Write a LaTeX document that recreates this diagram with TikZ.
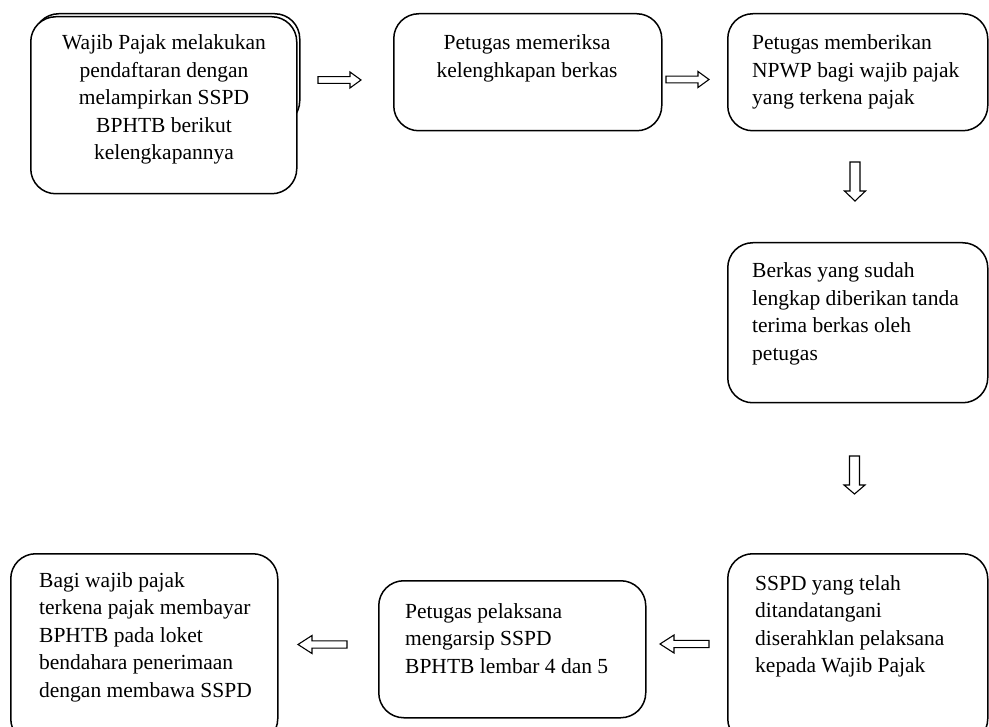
\documentclass[tikz,border=0pt]{standalone}
\usepackage{fontspec}
\setmainfont{Liberation Serif}
\tikzset{
  box/.style={draw, line width=1.5pt, rounded corners=25pt, inner sep=0pt, fill=white, anchor=north west},
  txt/.style={inner sep=0pt, font=\fontsize{21.5}{27.5}\selectfont},
  blk/.style={draw, line width=1.1pt, fill=white, line join=miter},
  pics/barrow/.style n args={4}{code={
    \draw[blk] (0,-#3) -- ({#1-#2},-#3) -- ({#1-#2},-#4) -- (#1,0) -- ({#1-#2},#4) -- ({#1-#2},#3) -- (0,#3) -- cycle;}}
}
\begin{document}
\begin{tikzpicture}[x=1pt,y=-1pt]
\useasboundingbox (0,0) rectangle (989,727);
\clip (0,0) rectangle (989,727);

% box 1 (double outline)
\node[box, minimum width=266pt, minimum height=112pt] (b1back) at (33,13) {};
\node[box, minimum width=266pt, minimum height=177pt] (b1) at (30,16) {};
\node[txt, anchor=base] (t1) at (164,50) {\parbox[t]{300pt}{\centering Wajib Pajak melakukan\\ pendaftaran dengan\\ melampirkan SSPD\\ BPHTB berikut\\ kelengkapannya}};

% box 2
\node[box, minimum width=268pt, minimum height=117pt] (b2) at (393,13) {};
\node[txt, anchor=base] (t2) at (527,50) {\parbox[t]{300pt}{\centering Petugas memeriksa\\ kelenghkapan berkas}};

% box 3
\node[box, minimum width=260pt, minimum height=117pt] (b3) at (727,13) {};
\node[txt, anchor=base west] (t3) at (752,50) {\parbox[t]{260pt}{\raggedright Petugas memberikan\\ NPWP bagi wajib pajak\\ yang terkena pajak}};

% box 4
\node[box, minimum width=260pt, minimum height=160pt] (b4) at (727,242) {};
\node[txt, anchor=base west] (t4) at (752,278) {\parbox[t]{260pt}{\raggedright Berkas yang sudah\\ lengkap diberikan tanda\\ terima berkas oleh\\ petugas}};

% box 6 (bottom right)
\node[box, minimum width=260pt, minimum height=190pt] (b6) at (727,553) {};
\node[txt, anchor=base west] (t6) at (755,590) {\parbox[t]{260pt}{\raggedright SSPD yang telah\\ ditandatangani\\ diserahklan pelaksana\\ kepada Wajib Pajak}};

% box 5 (bottom middle)
\node[box, minimum width=267pt, minimum height=137pt] (b5) at (378,580) {};
\node[txt, anchor=base west] (t5) at (405,618) {\parbox[t]{260pt}{\raggedright Petugas pelaksana\\ mengarsip SSPD\\ BPHTB lembar 4 dan 5}};

% box 7 (bottom left)
\node[box, minimum width=267pt, minimum height=190pt] (b7) at (10,553) {};
\node[txt, anchor=base west] (t7) at (39,587) {\parbox[t]{260pt}{\raggedright Bagi wajib pajak\\ terkena pajak membayar\\ BPHTB pada loket\\ bendahara penerimaan\\ dengan membawa SSPD}};

% block arrows
\pic at (318,80) {barrow={43}{11}{3.4}{8}};
\pic at (666,79.5) {barrow={43}{11}{3.4}{8}};
\pic[rotate=-90] at (855,162) {barrow={39}{10}{5}{10.5}};
\pic[rotate=-90] at (854.5,456) {barrow={38}{9}{5}{10.5}};
\pic[rotate=180] at (347,644.5) {barrow={49}{14}{3.6}{9}};
\pic[rotate=180] at (709,644) {barrow={49}{14}{3.6}{9}};
\end{tikzpicture}
\end{document}
